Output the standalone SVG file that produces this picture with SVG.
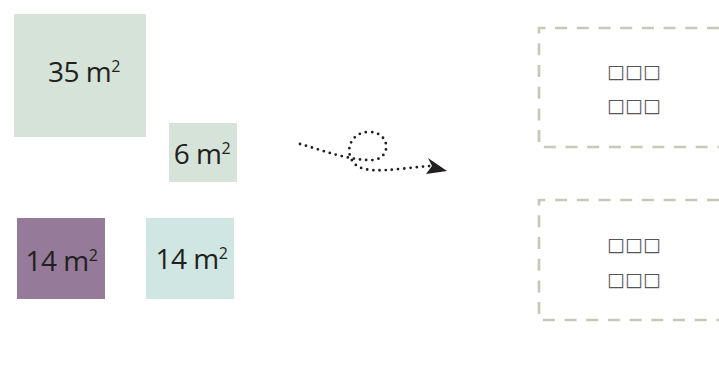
<svg xmlns="http://www.w3.org/2000/svg" width="719" height="369" viewBox="0 0 719 369">
<style>
.lbl{font-family:"Open Sans","Liberation Sans",sans-serif;font-size:28px;fill:#231f20;text-anchor:middle;letter-spacing:-0.5px}
.sup{font-size:16px}
.zone{fill:none;stroke:#c8c8b8;stroke-width:2.7;stroke-dasharray:12 9.7}
.tofu{font-family:"DejaVu Sans",sans-serif;font-size:19px;fill:#555;text-anchor:middle}
.flow{fill:none;stroke:#231f20;stroke-width:2.8;stroke-linecap:round;stroke-dasharray:0 6.2}
</style>
<rect width="719" height="369" fill="#fff"/>
<g id="room35"><rect x="14" y="14" width="132" height="123" fill="#d6e3d9"/><text class="lbl" x="84" y="82">35 m<tspan class="sup" dy="-10">2</tspan></text></g>
<g id="room6"><rect x="169" y="123" width="68" height="59" fill="#d6e3d9"/><text class="lbl" x="202" y="164">6 m<tspan class="sup" dy="-10">2</tspan></text></g>
<g id="room14a"><rect x="17" y="218" width="88" height="81" fill="#957b99"/><text class="lbl" x="61.5" y="271">14 m<tspan class="sup" dy="-10">2</tspan></text></g>
<g id="room14b"><rect x="146" y="218" width="88" height="81" fill="#d0e6e3"/><text class="lbl" x="191.5" y="269">14 m<tspan class="sup" dy="-10">2</tspan></text></g>
<g id="zoneTop"><path class="zone" d="M719 28 H539 V147 H719"/><g opacity="0.99"><text class="tofu" x="634" y="78">□□□</text><text class="tofu" x="634" y="112">□□□</text></g></g>
<g id="zoneBottom"><path class="zone" d="M719 200 H539 V320 H719"/><g opacity="0.99"><text class="tofu" x="634" y="251">□□□</text><text class="tofu" x="634" y="286">□□□</text></g></g>
<g id="connectors">
<path class="flow" d="M300 144 C325 151 350 161 374 160 C392 157 390 132 369 132 C350 132 344 152 354 163 C364 176 400 168 430 166"/>
<polygon points="428,158 447,171 426,174 432,166" fill="#231f20"/>
</g>
</svg>
